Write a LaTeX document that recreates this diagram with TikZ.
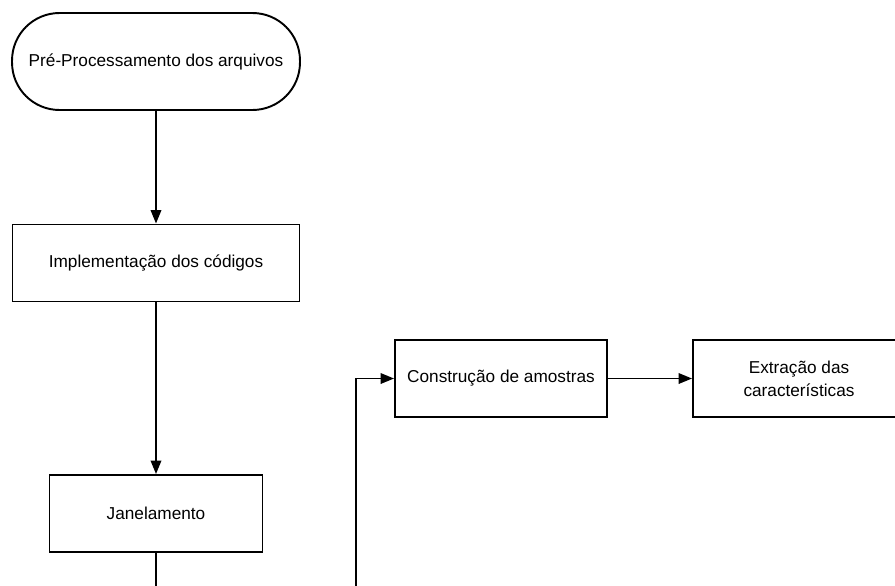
\documentclass[tikz,border=0pt]{standalone}
\usepackage{fontspec}
\setmainfont{Liberation Sans}
\usetikzlibrary{arrows.meta}

\begin{document}
\begin{tikzpicture}[x=0.02cm,y=-0.02cm,line width=1.1pt,
        font=\fontsize{9.8}{13}\selectfont,
        box node/.style={rectangle,draw,align=center,minimum height=1.54cm,inner sep=2pt},
        end node/.style={rectangle,draw,rounded corners=0.95cm,minimum width=5.76cm,minimum height=1.94cm},
        arr/.style={-{Triangle[length=0.27cm,width=0.21cm]}}]
        \useasboundingbox (0,0) rectangle (895,585);
        \node [end node] (1) at (156,61.5) {Pré-Processamento dos arquivos};
        \node [box node, minimum width=5.74cm] (2) at (156,263) {Implementação dos códigos};
        \node [box node, minimum width=4.26cm] (3) at (156,513.5) {Janelamento};
        \node [box node, minimum width=4.24cm] (4) at (501,378.5) {Construção de amostras};
        \node [box node, minimum width=4.24cm] (5) at (799,378.5) {Extração das\\características};
        \coordinate (a) at (156,586);
        \coordinate (b) at (356,586);
        \path [draw, arr] (1) edge (2);
        \path [draw, arr] (2) edge (3);
        \path [draw] (3) edge (a);
        \draw [arr] (b) |- (4);
        \path [draw, arr] (4) edge (5);
    \end{tikzpicture}
\end{document}
